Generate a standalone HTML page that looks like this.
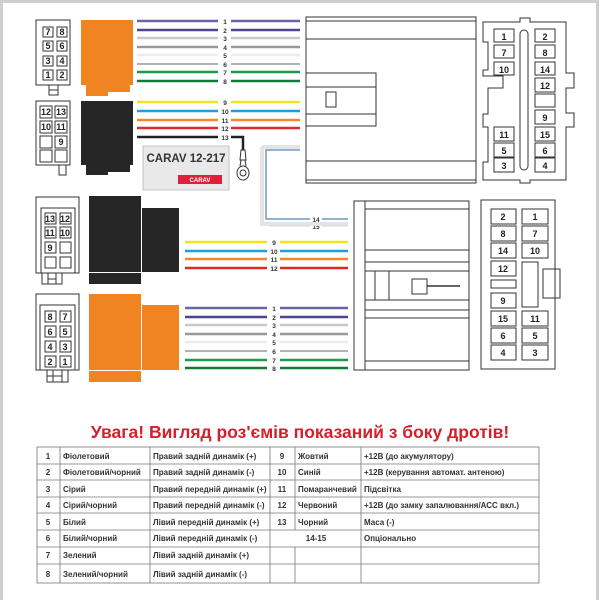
<!DOCTYPE html>
<html><head><meta charset="utf-8"><style>
body{margin:0;background:#fff}
svg{display:block}
text{font-family:"Liberation Sans",Arial,sans-serif}
.n{font-size:9px;font-weight:bold;fill:#222;text-anchor:middle}
.w{font-size:6.5px;font-weight:bold;fill:#333;text-anchor:middle}
.t{font-size:8px;font-weight:bold;fill:#333}
</style></head><body>
<svg width="600" height="600" viewBox="0 0 600 600" xmlns="http://www.w3.org/2000/svg">
<rect x="1.5" y="1.5" width="596" height="620" fill="none" stroke="#cfcfcf" stroke-width="3"/>
<g fill="none" stroke="#333" stroke-width="1">
<!-- connector 1 -->
<rect x="36" y="20" width="34" height="65" fill="#fff"/>
<rect x="49" y="85" width="9" height="10"/>
<line x1="49" y1="90" x2="58" y2="90"/>
<rect x="43" y="27" width="10" height="10"/><rect x="57" y="27" width="10" height="10"/>
<rect x="43" y="41" width="10" height="10"/><rect x="57" y="41" width="10" height="10"/>
<rect x="43" y="56" width="10" height="10"/><rect x="57" y="56" width="10" height="10"/>
<rect x="43" y="70" width="10" height="10"/><rect x="57" y="70" width="10" height="10"/>
<!-- connector 2 -->
<rect x="36" y="101" width="34" height="64"/>
<rect x="59" y="165" width="7" height="10"/>
<rect x="40" y="106" width="12" height="12"/><rect x="55" y="106" width="12" height="12"/>
<rect x="40" y="121" width="12" height="12"/><rect x="55" y="121" width="12" height="12"/>
<rect x="40" y="136" width="12" height="12"/><rect x="55" y="136" width="12" height="12"/>
<rect x="40" y="150" width="12" height="12"/><rect x="55" y="150" width="12" height="12"/>
<!-- connector 3 -->
<rect x="36" y="197" width="43" height="76"/>
<rect x="41" y="208" width="34" height="65"/>
<rect x="42" y="273" width="20" height="11"/><line x1="48" y1="273" x2="48" y2="284"/><line x1="56" y1="273" x2="56" y2="284"/><line x1="48" y1="279" x2="56" y2="279"/>
<rect x="45" y="213" width="11" height="11"/><rect x="60" y="213" width="11" height="11"/>
<rect x="45" y="227" width="11" height="11"/><rect x="60" y="227" width="11" height="11"/>
<rect x="45" y="242" width="11" height="11"/><rect x="60" y="242" width="11" height="11"/>
<rect x="45" y="257" width="11" height="11"/><rect x="60" y="257" width="11" height="11"/>
<!-- connector 4 -->
<rect x="36" y="294" width="43" height="76"/>
<rect x="40" y="305" width="35" height="65"/>
<rect x="47" y="370" width="21" height="12"/><line x1="53" y1="370" x2="53" y2="382"/><line x1="62" y1="370" x2="62" y2="382"/><line x1="47" y1="376" x2="62" y2="376"/>
<rect x="45" y="311" width="11" height="11"/><rect x="60" y="311" width="11" height="11"/>
<rect x="45" y="326" width="11" height="11"/><rect x="60" y="326" width="11" height="11"/>
<rect x="45" y="341" width="11" height="11"/><rect x="60" y="341" width="11" height="11"/>
<rect x="45" y="356" width="11" height="11"/><rect x="60" y="356" width="11" height="11"/>
</g>
<g class="n">
<text x="48" y="35">7</text><text x="62" y="35">8</text><text x="48" y="49">5</text><text x="62" y="49">6</text>
<text x="48" y="64">3</text><text x="62" y="64">4</text><text x="48" y="78">1</text><text x="62" y="78">2</text>
<text x="46" y="115">12</text><text x="61" y="115">13</text><text x="46" y="130">10</text><text x="61" y="130">11</text><text x="61" y="145">9</text>
<text x="50" y="222">13</text><text x="65" y="222">12</text><text x="50" y="236">11</text><text x="65" y="236">10</text><text x="50" y="251">9</text>
<text x="50" y="320">8</text><text x="65" y="320">7</text><text x="50" y="335">6</text><text x="65" y="335">5</text>
<text x="50" y="350">4</text><text x="65" y="350">3</text><text x="50" y="365">2</text><text x="65" y="365">1</text>
</g>
<!-- blocks -->
<rect x="81" y="20" width="52" height="65" fill="#ef8420"/>
<path d="M86 85h44v7h-22v4h-22z" fill="#ef8420"/>
<rect x="81" y="101" width="52" height="64" fill="#262626"/>
<path d="M86 165h44v7h-22v3h-22z" fill="#262626"/>
<rect x="89" y="196" width="52" height="76" fill="#262626"/><rect x="89" y="273" width="52" height="11" fill="#262626"/>
<rect x="142" y="208" width="37" height="64" fill="#262626"/>
<rect x="89" y="294" width="52" height="76" fill="#ef8420"/><rect x="89" y="371" width="52" height="11" fill="#ef8420"/>
<rect x="142" y="305" width="37" height="65" fill="#ef8420"/>
<g stroke-width="2.5">
<g stroke="#6a64a8"><line x1="137" y1="21" x2="218" y2="21"/><line x1="231" y1="21" x2="300" y2="21"/></g>
<g stroke="#4c4690"><line x1="137" y1="30" x2="218" y2="30"/><line x1="231" y1="30" x2="300" y2="30"/></g>
<g stroke="#c8c8c8"><line x1="137" y1="38" x2="218" y2="38"/><line x1="231" y1="38" x2="300" y2="38"/></g>
<g stroke="#999"><line x1="137" y1="47" x2="218" y2="47"/><line x1="231" y1="47" x2="300" y2="47"/></g>
<g stroke="#ececec"><line x1="137" y1="55" x2="218" y2="55"/><line x1="231" y1="55" x2="300" y2="55"/></g>
<g stroke="#999" stroke-width="1.5"><line x1="137" y1="64" x2="218" y2="64"/><line x1="231" y1="64" x2="300" y2="64"/></g>
<g stroke="#1c9a4a"><line x1="137" y1="72" x2="218" y2="72"/><line x1="231" y1="72" x2="300" y2="72"/></g>
<g stroke="#127a38"><line x1="137" y1="81" x2="218" y2="81"/><line x1="231" y1="81" x2="300" y2="81"/></g>
<g stroke="#f5e11c"><line x1="137" y1="102" x2="218" y2="102"/><line x1="231" y1="102" x2="300" y2="102"/></g>
<g stroke="#1ba0dc"><line x1="137" y1="111" x2="218" y2="111"/><line x1="231" y1="111" x2="300" y2="111"/></g>
<g stroke="#ef8a2a"><line x1="137" y1="120" x2="218" y2="120"/><line x1="231" y1="120" x2="300" y2="120"/></g>
<g stroke="#e02a2a"><line x1="137" y1="128" x2="218" y2="128"/><line x1="231" y1="128" x2="300" y2="128"/></g>
<path d="M137 137H218M231 137H243V150" stroke="#222" fill="none"/>
<g stroke="#f5e11c"><line x1="185" y1="242" x2="267" y2="242"/><line x1="280" y1="242" x2="348" y2="242"/></g>
<g stroke="#1ba0dc"><line x1="185" y1="251" x2="267" y2="251"/><line x1="280" y1="251" x2="348" y2="251"/></g>
<g stroke="#ef8a2a"><line x1="185" y1="259" x2="267" y2="259"/><line x1="280" y1="259" x2="348" y2="259"/></g>
<g stroke="#e02a2a"><line x1="185" y1="268" x2="267" y2="268"/><line x1="280" y1="268" x2="348" y2="268"/></g>
<g stroke="#6a64a8"><line x1="185" y1="308" x2="267" y2="308"/><line x1="280" y1="308" x2="348" y2="308"/></g>
<g stroke="#4c4690"><line x1="185" y1="317" x2="267" y2="317"/><line x1="280" y1="317" x2="348" y2="317"/></g>
<g stroke="#c8c8c8"><line x1="185" y1="325" x2="267" y2="325"/><line x1="280" y1="325" x2="348" y2="325"/></g>
<g stroke="#999"><line x1="185" y1="334" x2="267" y2="334"/><line x1="280" y1="334" x2="348" y2="334"/></g>
<g stroke="#ececec"><line x1="185" y1="342" x2="267" y2="342"/><line x1="280" y1="342" x2="348" y2="342"/></g>
<g stroke="#999" stroke-width="1.5"><line x1="185" y1="351" x2="267" y2="351"/><line x1="280" y1="351" x2="348" y2="351"/></g>
<g stroke="#1c9a4a"><line x1="185" y1="360" x2="267" y2="360"/><line x1="280" y1="360" x2="348" y2="360"/></g>
<g stroke="#127a38"><line x1="185" y1="368" x2="267" y2="368"/><line x1="280" y1="368" x2="348" y2="368"/></g>
</g>
<g fill="none" stroke="#333"><path d="M241 150h4l1 10h-6z"/><ellipse cx="243" cy="173" rx="6" ry="7"/><circle cx="243" cy="173" r="3"/><line x1="241" y1="160" x2="240" y2="166"/><line x1="245" y1="160" x2="246" y2="166"/></g>
<g class="w">
<text x="225" y="24">1</text><text x="225" y="33">2</text><text x="225" y="41">3</text><text x="225" y="50">4</text><text x="225" y="58">5</text><text x="225" y="67">6</text><text x="225" y="75">7</text><text x="225" y="84">8</text>
<text x="225" y="105">9</text><text x="225" y="114">10</text><text x="225" y="123">11</text><text x="225" y="131">12</text><text x="225" y="140">13</text>
<text x="274" y="245">9</text><text x="274" y="254">10</text><text x="274" y="262">11</text><text x="274" y="271">12</text>
<text x="274" y="311">1</text><text x="274" y="320">2</text><text x="274" y="328">3</text><text x="274" y="337">4</text><text x="274" y="345">5</text><text x="274" y="354">6</text><text x="274" y="363">7</text><text x="274" y="371">8</text>
<text x="316" y="222">14</text><text x="316" y="229">15</text>
</g>
<rect x="143" y="146" width="86" height="44" fill="#e9e9e9" stroke="#c4c4c4"/>
<text x="186" y="162" text-anchor="middle" font-size="11.5" font-weight="bold" fill="#333">CARAV 12-217</text>
<rect x="178" y="175" width="44" height="9" fill="#e0203a"/>
<text x="200" y="182" text-anchor="middle" font-size="6" font-weight="bold" fill="#fff">CARAV</text>
<path d="M262 147H300M262 147V224H348" fill="none" stroke="#e4e4e4" stroke-width="4"/>
<path d="M300 150H266V219H310M322 219H348" fill="none" stroke="#6a9ac0" stroke-width="1.5"/>
<path d="M270 226H310M322 226H348" stroke="#ddd" stroke-width="1.2"/>
<g fill="none" stroke="#333" stroke-width="1">
<rect x="306" y="17" width="170" height="166"/>
<line x1="306" y1="21" x2="476" y2="21"/><line x1="306" y1="39" x2="476" y2="39"/><line x1="306" y1="161" x2="476" y2="161"/><line x1="306" y1="180" x2="476" y2="180"/>
<rect x="306" y="73" width="70" height="53"/><line x1="306" y1="87" x2="376" y2="87"/><line x1="306" y1="114" x2="376" y2="114"/>
<rect x="326" y="92" width="10" height="15"/>
<path d="M483 22H520V18H530V22H566V73H574V88H566V113H574V127H566V180H530V183H520V180H483V162H488V127H483V114H488V88H503V76H483V70H488V42H483Z"/>
<rect x="520" y="30" width="8" height="140" rx="4"/>
<rect x="354" y="201" width="115" height="169"/><line x1="365" y1="201" x2="365" y2="370"/>
<line x1="365" y1="209" x2="469" y2="209"/><line x1="365" y1="250" x2="469" y2="250"/><line x1="365" y1="262" x2="469" y2="262"/>
<line x1="365" y1="271" x2="469" y2="271"/><line x1="365" y1="300" x2="469" y2="300"/>
<line x1="365" y1="310" x2="469" y2="310"/><line x1="365" y1="318" x2="469" y2="318"/><line x1="365" y1="361" x2="469" y2="361"/>
<line x1="375" y1="271" x2="375" y2="300"/><line x1="389" y1="271" x2="389" y2="300"/>
<rect x="412" y="279" width="15" height="15"/><line x1="427" y1="286" x2="460" y2="286" stroke-width="1.5"/>
<rect x="481" y="200" width="74" height="169"/>
<rect x="543" y="269" width="17" height="29"/>
<rect x="522" y="262" width="16" height="45"/>
<rect x="491" y="280" width="25" height="8"/>
</g>
<g fill="#fff" stroke="#333">
<rect x="494" y="29" width="20" height="13"/><rect x="535" y="29" width="20" height="13"/>
<rect x="494" y="45" width="20" height="13"/><rect x="535" y="45" width="20" height="13"/>
<rect x="494" y="62" width="20" height="13"/><rect x="535" y="62" width="20" height="13"/>
<rect x="535" y="78" width="20" height="14"/><rect x="535" y="94" width="20" height="13"/><rect x="535" y="110" width="20" height="14"/>
<rect x="494" y="127" width="20" height="14"/><rect x="535" y="127" width="20" height="14"/>
<rect x="494" y="143" width="20" height="14"/><rect x="535" y="143" width="20" height="14"/>
<rect x="494" y="158" width="20" height="14"/><rect x="535" y="158" width="20" height="14"/>
<rect x="491" y="209" width="25" height="15"/><rect x="522" y="209" width="26" height="15"/>
<rect x="491" y="226" width="25" height="15"/><rect x="522" y="226" width="26" height="15"/>
<rect x="491" y="243" width="25" height="15"/><rect x="522" y="243" width="26" height="15"/>
<rect x="491" y="261" width="25" height="15"/><rect x="491" y="293" width="25" height="15"/>
<rect x="491" y="311" width="25" height="15"/><rect x="522" y="311" width="26" height="15"/>
<rect x="491" y="328" width="25" height="15"/><rect x="522" y="328" width="26" height="15"/>
<rect x="491" y="345" width="25" height="15"/><rect x="522" y="345" width="26" height="15"/>
</g>
<g class="n" font-size="10">
<text x="504" y="40">1</text><text x="545" y="40">2</text><text x="504" y="56">7</text><text x="545" y="56">8</text>
<text x="504" y="73">10</text><text x="545" y="73">14</text><text x="545" y="89">12</text><text x="545" y="121">9</text>
<text x="504" y="138">11</text><text x="545" y="138">15</text><text x="504" y="154">5</text><text x="545" y="154">6</text>
<text x="504" y="169">3</text><text x="545" y="169">4</text>
</g>
<g class="n" font-size="8">
<text x="503" y="220">2</text><text x="535" y="220">1</text><text x="503" y="237">8</text><text x="535" y="237">7</text>
<text x="503" y="254">14</text><text x="535" y="254">10</text><text x="503" y="272">12</text><text x="503" y="304">9</text>
<text x="503" y="322">15</text><text x="535" y="322">11</text><text x="503" y="339">6</text><text x="535" y="339">5</text>
<text x="503" y="356">4</text><text x="535" y="356">3</text>
</g>
<text x="300" y="438" text-anchor="middle" font-size="17.5" font-weight="bold" fill="#d4202c">Увага! Вигляд роз'ємів показаний з боку дротів!</text>
<g stroke="#777" stroke-width="0.8" fill="none">
<rect x="37" y="447" width="502" height="136"/>
<line x1="60" y1="447" x2="60" y2="583"/><line x1="150" y1="447" x2="150" y2="583"/><line x1="270" y1="447" x2="270" y2="583"/>
<line x1="295" y1="447" x2="295" y2="530"/><line x1="295" y1="547" x2="295" y2="583"/><line x1="361" y1="447" x2="361" y2="583"/>
<line x1="37" y1="464" x2="539" y2="464"/><line x1="37" y1="480" x2="539" y2="480"/><line x1="37" y1="497" x2="539" y2="497"/>
<line x1="37" y1="513" x2="539" y2="513"/><line x1="37" y1="530" x2="539" y2="530"/><line x1="37" y1="547" x2="539" y2="547"/>
<line x1="37" y1="564" x2="539" y2="564"/>
</g>
<g class="t">
<text x="48" y="459" text-anchor="middle">1</text><text x="48" y="475" text-anchor="middle">2</text><text x="48" y="492" text-anchor="middle">3</text><text x="48" y="508" text-anchor="middle">4</text><text x="48" y="525" text-anchor="middle">5</text><text x="48" y="541" text-anchor="middle">6</text><text x="48" y="558" text-anchor="middle">7</text><text x="48" y="577" text-anchor="middle">8</text>
<text x="63" y="459">Фіолетовий</text><text x="63" y="475">Фіолетовий/чорний</text><text x="63" y="492">Сірий</text><text x="63" y="508">Сірий/чорний</text><text x="63" y="525">Білий</text><text x="63" y="541">Білий/чорний</text><text x="63" y="558">Зелений</text><text x="63" y="577">Зелений/чорний</text>
<text x="153" y="459">Правий задній динамік (+)</text><text x="153" y="475">Правий задній динамік (-)</text><text x="153" y="492">Правий передній динамік (+)</text><text x="153" y="508">Правий передній динамік (-)</text><text x="153" y="525">Лівий передній динамік (+)</text><text x="153" y="541">Лівий передній динамік (-)</text><text x="153" y="558">Лівий задній динамік (+)</text><text x="153" y="577">Лівий задній динамік (-)</text>
<text x="282" y="459" text-anchor="middle">9</text><text x="282" y="475" text-anchor="middle">10</text><text x="282" y="492" text-anchor="middle">11</text><text x="282" y="508" text-anchor="middle">12</text><text x="282" y="525" text-anchor="middle">13</text><text x="316" y="541" text-anchor="middle">14-15</text>
<text x="298" y="459">Жовтий</text><text x="298" y="475">Синій</text><text x="298" y="492">Помаранчевий</text><text x="298" y="508">Червоний</text><text x="298" y="525">Чорний</text>
<text x="364" y="459">+12В (до акумулятору)</text><text x="364" y="475">+12В (керування автомат. антеною)</text><text x="364" y="492">Підсвітка</text><text x="364" y="508">+12В (до замку запалювання/АСС вкл.)</text><text x="364" y="525">Маса (-)</text><text x="364" y="541">Опціонально</text>
</g>
</svg>
</body></html>
